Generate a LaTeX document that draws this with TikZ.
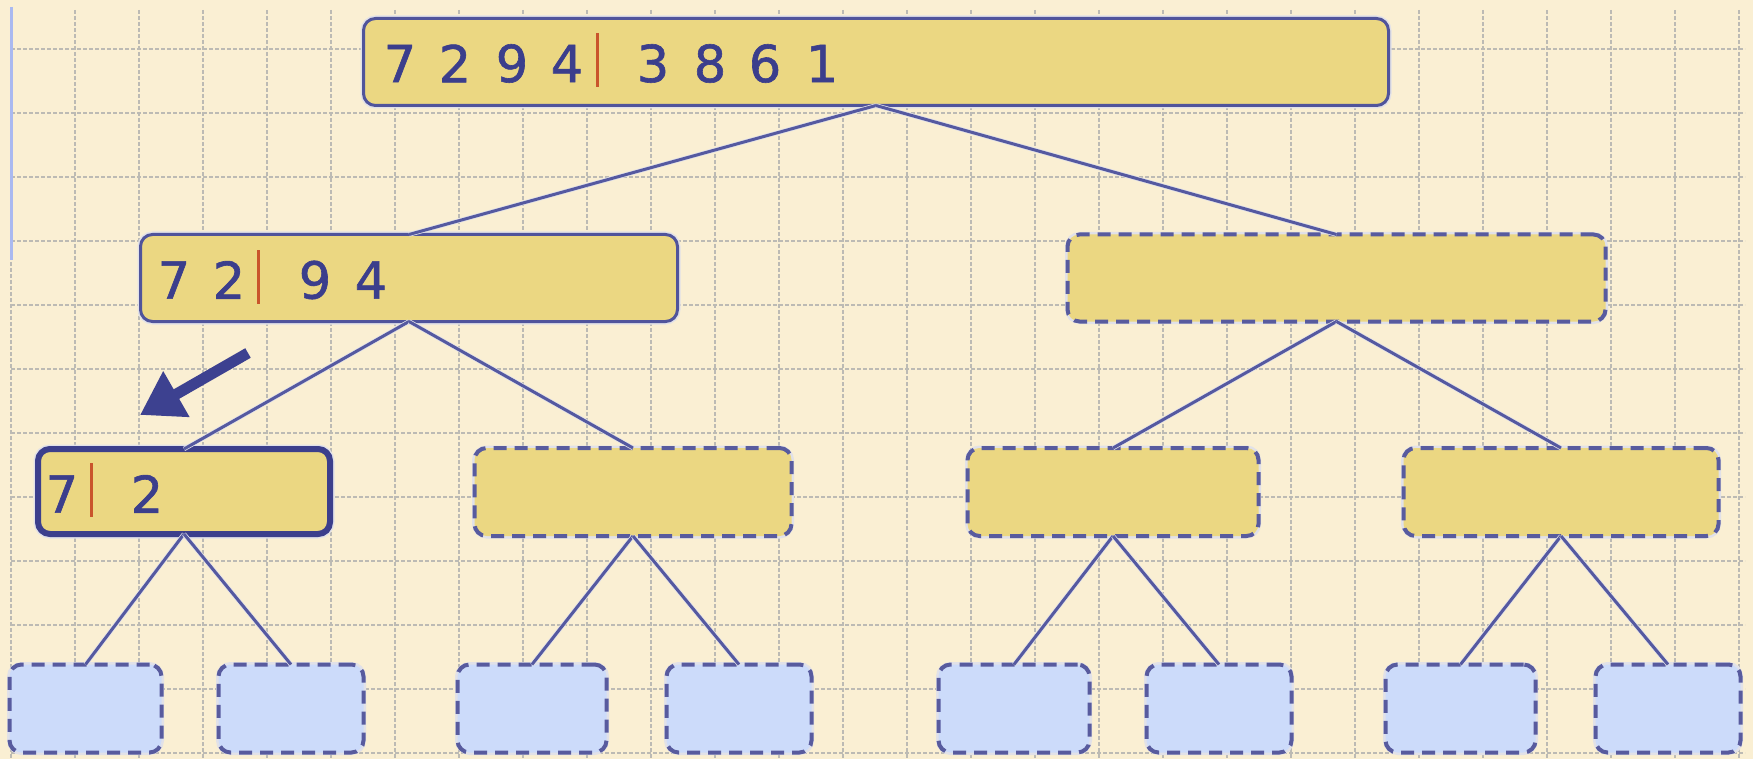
\documentclass[tikz,border=0pt]{standalone}
\usepackage{fontspec}
\newfontfamily\digitfont[FakeBold=1.2]{DejaVu Sans}
\usetikzlibrary{arrows.meta}
\definecolor{bgc}{RGB}{250,239,211}
\definecolor{boxyellow}{RGB}{235,215,130}
\definecolor{leafblue}{RGB}{204,219,250}
\definecolor{edgeblue}{RGB}{80,84,155}
\definecolor{edgedark}{RGB}{60,63,140}
\definecolor{dashblue}{RGB}{88,91,158}
\definecolor{digitblue}{RGB}{59,62,140}
\definecolor{barred}{RGB}{201,85,43}
\definecolor{connblue}{RGB}{85,89,160}
\definecolor{gridgray}{RGB}{188,186,180}
\definecolor{haloc}{RGB}{225,225,232}
\definecolor{leftblue}{RGB}{170,185,240}
\definecolor{arrowblue}{RGB}{61,65,144}
\begin{document}
\begin{tikzpicture}[x=1pt,y=-1pt,
  nodebox/.style={rounded corners=12pt, fill=boxyellow, inner sep=0pt, outer sep=0pt},
  solidbox/.style={nodebox, draw=edgeblue, line width=3pt, preaction={draw=haloc, line width=6pt}},
  thickbox/.style={nodebox, draw=edgedark, line width=6pt, preaction={draw=haloc, line width=9pt}},
  dashbox/.style={nodebox, draw=dashblue, line width=4pt, dash pattern=on 13pt off 8pt, preaction={draw=haloc, line width=5pt, solid}},
  leafbox/.style={dashbox, fill=leafblue},
  digit/.style={font=\digitfont\fontsize{51}{51}\selectfont, text=digitblue, inner sep=0pt},
  redbar/.style={fill=barred, minimum width=3pt, minimum height=54pt, inner sep=0pt},
  conn/.style={draw=connblue, line width=3pt, preaction={draw=haloc, line width=4.5pt}},
  gridline/.style={draw=gridgray, line width=2pt, dash pattern=on 4pt off 2pt},
  bigarrow/.style={draw=arrowblue, line width=11pt, line cap=butt, -{Triangle[length=42pt,width=50pt]}}
]
\useasboundingbox (0,0) rectangle (1753,759);
\fill[bgc] (0,0) rectangle (1753,759);
% grid
\foreach \i in {0,...,27} \draw[gridline] ({11+64*\i},10) -- ({11+64*\i},759);
\foreach \j in {0,...,11} \draw[gridline] (11,{49+64*\j}) -- (1745,{49+64*\j});
\draw[leftblue, line width=3pt] (11,7) -- (11,260);

% boxes
\node[solidbox, minimum width=1025pt, minimum height=87pt] (top) at (876,62) {};
\node[solidbox, minimum width=537pt, minimum height=87pt] (l2a) at (409,278) {};
\node[dashbox, minimum width=538pt, minimum height=87pt] (l2b) at (1336.5,278) {};
\node[thickbox, minimum width=292pt, minimum height=85pt] (l3a) at (184,491.5) {};
\node[dashbox, minimum width=317pt, minimum height=88pt] (l3b) at (633,492) {};
\node[dashbox, minimum width=291pt, minimum height=88pt] (l3c) at (1113,492) {};
\node[dashbox, minimum width=315pt, minimum height=88pt] (l3d) at (1561,492) {};
\node[leafbox, minimum width=152pt, minimum height=88pt] (f1) at (85.5,708.5) {};
\node[leafbox, minimum width=145pt, minimum height=88pt] (f2) at (291,708.5) {};
\node[leafbox, minimum width=149pt, minimum height=88pt] (f3) at (532,708.5) {};
\node[leafbox, minimum width=145pt, minimum height=88pt] (f4) at (739,708.5) {};
\node[leafbox, minimum width=151pt, minimum height=88pt] (f5) at (1014,708.5) {};
\node[leafbox, minimum width=145pt, minimum height=88pt] (f6) at (1219,708.5) {};
\node[leafbox, minimum width=150pt, minimum height=88pt] (f7) at (1460.5,708.5) {};
\node[leafbox, minimum width=145pt, minimum height=88pt] (f8) at (1668,708.5) {};

% connectors
\draw[conn] (top.south) -- (l2a.north);
\draw[conn] (top.south) -- (l2b.north);
\draw[conn] (l2a.south) -- (l3a.north);
\draw[conn] (l2a.south) -- (l3b.north);
\draw[conn] (l2b.south) -- (l3c.north);
\draw[conn] (l2b.south) -- (l3d.north);
\draw[conn] (l3a.south) -- (f1.north);
\draw[conn] (l3a.south) -- (f2.north);
\draw[conn] (l3b.south) -- (f3.north);
\draw[conn] (l3b.south) -- (f4.north);
\draw[conn] (l3c.south) -- (f5.north);
\draw[conn] (l3c.south) -- (f6.north);
\draw[conn] (l3d.south) -- (f7.north);
\draw[conn] (l3d.south) -- (f8.north);

% top digits
\node[digit] (t1) at (400,63.5) {7};
\node[digit] (t2) at (455,63.5) {2};
\node[digit] (t3) at (512,63.5) {9};
\node[digit] (t4) at (567,63.5) {4};
\node[redbar] (tbar) at (597,60) {};
\node[digit] (t5) at (653,63.5) {3};
\node[digit] (t6) at (710,63.5) {8};
\node[digit] (t7) at (765,63.5) {6};
\node[digit] (t8) at (822,63.5) {1};
% level 2 digits
\node[digit] (a1) at (174,280) {7};
\node[digit] (a2) at (229,280) {2};
\node[redbar] (abar) at (258,277) {};
\node[digit] (a3) at (315,280) {9};
\node[digit] (a4) at (371,280) {4};
% level 3 digits
\node[digit] (b1) at (62,494) {7};
\node[redbar] (bbar) at (91,490) {};
\node[digit] (b2) at (147,494) {2};

% arrow
\coordinate (arrtail) at (248,353);
\coordinate (arrtip) at (140,415);
\draw[bigarrow] (arrtail) -- (arrtip);
\end{tikzpicture}
\end{document}
